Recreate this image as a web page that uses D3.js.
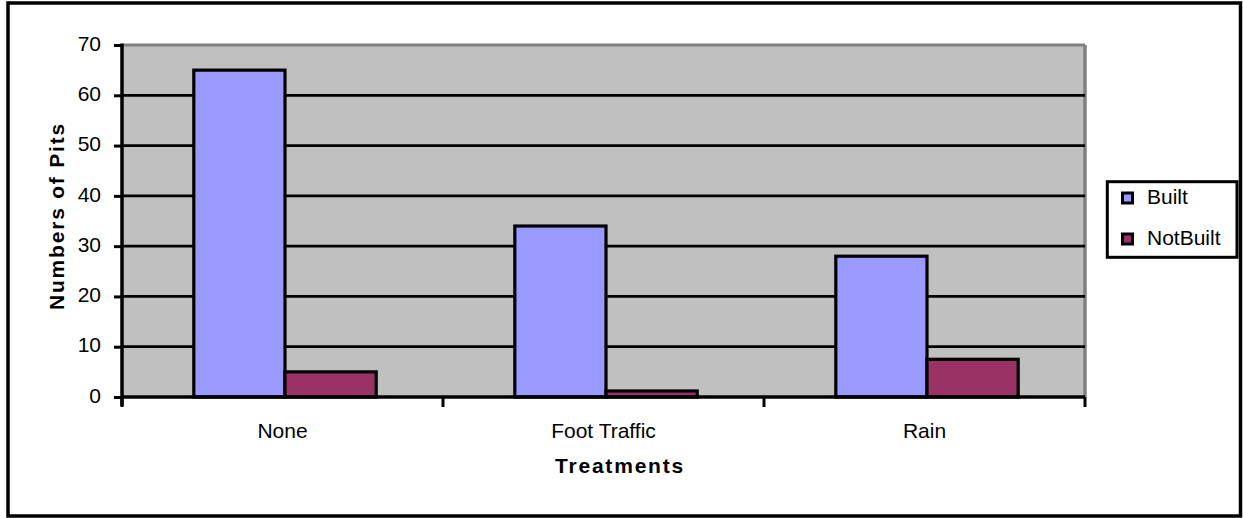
<!DOCTYPE html>
<html><head><meta charset="utf-8">
<script src="https://cdn.jsdelivr.net/npm/d3@7"></script>
<style>html,body{margin:0;padding:0;background:#fff;}svg{display:block;}</style>
</head><body>
<script>
const categories = ["None", "Foot Traffic", "Rain"];
const seriesNames = ["Built", "NotBuilt"];
const builtValues = [65, 34, 28];
const notBuiltValues = [5, 1.2, 7.5];
const yTicks = [0, 10, 20, 30, 40, 50, 60, 70];
const colors = ["#9999FF", "#993366"];

const W = 1243, H = 518;
const svg = d3.select("body").append("svg").attr("width", W).attr("height", H);
const font = "Arial, 'Liberation Sans', sans-serif";
const fs = 21;

// outer border
svg.append("rect").attr("x", 8).attr("y", 3).attr("width", 1232.5).attr("height", 513)
  .attr("fill", "#fff").attr("stroke", "#000").attr("stroke-width", 3.5);

const plot = {l: 122, r: 1085, t: 45, b: 397};
const x0 = d3.scaleBand().domain(categories).range([plot.l, plot.r]).paddingInner(0).paddingOuter(0);
const x1 = d3.scaleBand().domain(seriesNames).range([2.5, x0.bandwidth() + 2.5]).paddingInner(0).paddingOuter(0.76);
const y = d3.scaleLinear().domain([0, 70]).range([plot.b, plot.t]);

// plot background
svg.append("rect").attr("x", plot.l).attr("y", plot.t).attr("width", plot.r - plot.l).attr("height", plot.b - plot.t)
  .attr("fill", "#C0C0C0");
svg.append("line").attr("x1", plot.l).attr("x2", plot.r).attr("y1", plot.t).attr("y2", plot.t)
  .attr("stroke", "#808080").attr("stroke-width", 3);
svg.append("line").attr("x1", plot.r).attr("x2", plot.r).attr("y1", plot.t).attr("y2", plot.b)
  .attr("stroke", "#808080").attr("stroke-width", 3.5);

// gridlines
svg.append("g").selectAll("line").data(yTicks.filter(d => d > 0 && d < 70)).join("line")
  .attr("x1", plot.l).attr("x2", plot.r)
  .attr("y1", d => y(d)).attr("y2", d => y(d))
  .attr("stroke", "#000").attr("stroke-width", 2.8);

// bars
const data = categories.map((c, i) => ({cat: c, vals: [builtValues[i], notBuiltValues[i]]}));
const g = svg.append("g");
data.forEach(d => {
  d.vals.forEach((v, j) => {
    g.append("rect")
      .attr("x", x0(d.cat) + x1(seriesNames[j]))
      .attr("y", y(v))
      .attr("width", x1.bandwidth())
      .attr("height", y(0) - y(v))
      .attr("fill", colors[j]).attr("stroke", "#000").attr("stroke-width", 3.2);
  });
});

// y axis
const yAxis = d3.axisLeft(y).tickValues(yTicks).tickSize(8).tickPadding(13);
const ya = svg.append("g").attr("transform", `translate(${plot.l},0)`).call(yAxis);
ya.select(".domain").attr("stroke-width", 3.5).attr("d", `M0,${plot.t - 1.5}V${plot.b + 9}`);
ya.selectAll(".tick line").attr("stroke-width", 3);
ya.selectAll("text").attr("font-family", font).attr("font-size", fs).attr("fill", "#000").attr("dy", "0.25em");

// x axis
const xAxis = d3.axisBottom(x0).tickSize(0).tickPadding(26);
const xa = svg.append("g").attr("transform", `translate(0,${plot.b})`).call(xAxis);
xa.select(".domain").attr("stroke-width", 3.5).attr("d", `M${plot.l},0H${plot.r}`);
xa.selectAll("text").attr("font-family", font).attr("font-size", fs).attr("fill", "#000");
const xTickPos = [0, 1, 2, 3].map(i => plot.l + i * x0.bandwidth());
xa.append("g").selectAll("line").data(xTickPos).join("line")
  .attr("x1", d => d).attr("x2", d => d).attr("y1", 0).attr("y2", 10)
  .attr("stroke", "#000").attr("stroke-width", 3);

// axis titles
svg.append("text").attr("x", 620).attr("y", 473).attr("text-anchor", "middle")
  .attr("font-family", font).attr("font-size", fs).attr("font-weight", "bold").attr("letter-spacing", 1.8)
  .text("Treatments");
svg.append("text").attr("transform", `translate(64,216) rotate(-90)`)
  .attr("text-anchor", "middle")
  .attr("font-family", font).attr("font-size", fs).attr("font-weight", "bold").attr("letter-spacing", 1.8)
  .text("Numbers of Pits");

// legend
const lg = svg.append("g");
lg.append("rect").attr("x", 1107.3).attr("y", 181.7).attr("width", 129.7).attr("height", 75.6)
  .attr("fill", "#fff").attr("stroke", "#000").attr("stroke-width", 3);
seriesNames.forEach((s, i) => {
  const cy = 198 + i * 41;
  lg.append("rect").attr("x", 1122.5).attr("y", cy - 5).attr("width", 10).attr("height", 10)
    .attr("fill", colors[i]).attr("stroke", "#000").attr("stroke-width", 3);
  lg.append("text").attr("x", 1147).attr("y", cy + 6)
    .attr("font-family", font).attr("font-size", fs)
    .text(s);
});
</script>
</body></html>
